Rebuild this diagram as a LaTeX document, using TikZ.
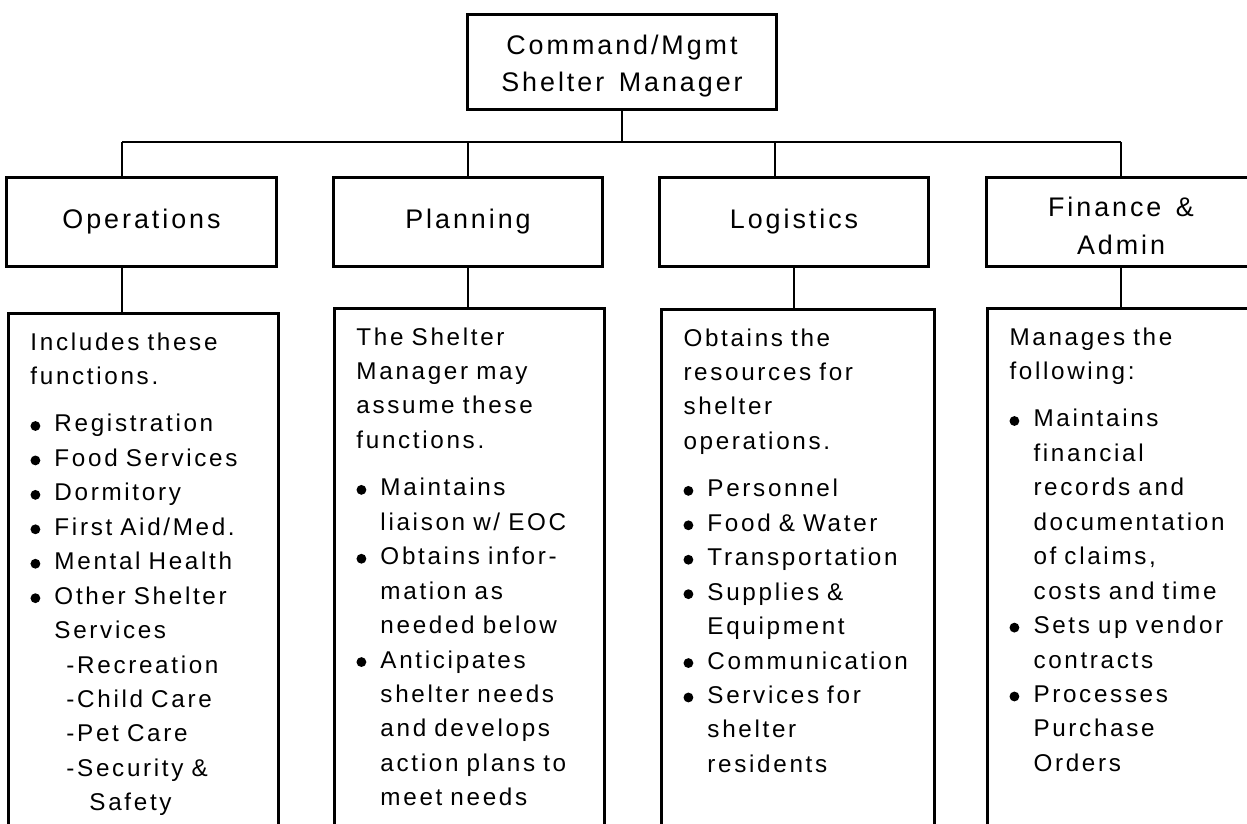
\documentclass[tikz,border=0pt]{standalone}
\usepackage{fontspec}
\setmainfont{Liberation Sans}[LetterSpace=11, WordSpace=1.4]
\usetikzlibrary{positioning}

\newcommand{\bul}{\makebox[0.48cm][l]{\tikz[baseline=0pt]\fill (2.8pt,3.4pt) circle[radius=2.8pt];}}
\newcommand{\ind}{\hspace*{0.48cm}}
\newcommand{\subit}{\hspace*{0.72cm}-}
\newcommand{\headstrut}{\rule{0pt}{0.55cm}}

\begin{document}
\begin{tikzpicture}[x=0.02cm, y=-0.02cm,
  head/.style={draw, line width=0.06cm, minimum width=5.4cm, minimum height=1.8cm,
    align=center, inner sep=0pt, font=\fontsize{15.3}{21.5}\selectfont},
  info/.style={draw, line width=0.06cm, anchor=north west, text width=4.52cm,
    inner xsep=0.44cm, inner ysep=0.25cm, text depth=10cm,
    font=\fontsize{13.8}{19.6}\selectfont},
  link/.style={line width=0.04cm}]
\useasboundingbox (0,0) rectangle (1247,824);

\node[head, minimum width=6.2cm, minimum height=1.92cm] (mgr) at (622,62) {\headstrut Command/Mgmt\\Shelter Manager};
\node[head] (ops)  at (141.5,222) {Operations};
\node[head] (plan) at (468,222)   {Planning};
\node[head] (logi) at (794,222)   {Logistics};
\node[head] (fin)  at (1121,222)  {\headstrut Finance \&\\Admin};

\coordinate (busL) at (122,142);
\coordinate (busR) at (1121,142);
\coordinate (logtap) at (775,142);

\node[info] (opsinfo) at (7,312) {\begin{tabular}[t]{@{}l@{}}
  Includes these\\
  functions.\\[0.26cm]
  \bul Registration\\
  \bul Food Services\\
  \bul Dormitory\\
  \bul First Aid/Med.\\
  \bul Mental Health\\
  \bul Other Shelter\\
  \ind Services\\
  \subit Recreation\\
  \subit Child Care\\
  \subit Pet Care\\
  \subit Security \&\\
  \hspace*{1.18cm}Safety
\end{tabular}};
\node[info] (planinfo) at (333,307) {\begin{tabular}[t]{@{}l@{}}
  The Shelter\\
  Manager may\\
  assume these\\
  functions.\\[0.26cm]
  \bul Maintains\\
  \ind liaison w/ EOC\\
  \bul Obtains infor-\\
  \ind mation as\\
  \ind needed below\\
  \bul Anticipates\\
  \ind shelter needs\\
  \ind and develops\\
  \ind action plans to\\
  \ind meet needs
\end{tabular}};
\node[info, text width=4.58cm] (loginfo) at (660,308) {\begin{tabular}[t]{@{}l@{}}
  Obtains the\\
  resources for\\
  shelter\\
  operations.\\[0.26cm]
  \bul Personnel\\
  \bul Food \& Water\\
  \bul Transportation\\
  \bul Supplies \&\\
  \ind Equipment\\
  \bul Communication\\
  \bul Services for\\
  \ind shelter\\
  \ind residents
\end{tabular}};
\node[info] (fininfo) at (986,307) {\begin{tabular}[t]{@{}l@{}}
  Manages the\\
  following:\\[0.26cm]
  \bul Maintains\\
  \ind financial\\
  \ind records and\\
  \ind documentation\\
  \ind of claims,\\
  \ind costs and time\\
  \bul Sets up vendor\\
  \ind contracts\\
  \bul Processes\\
  \ind Purchase\\
  \ind Orders
\end{tabular}};

\draw[link] (mgr.south) -- (mgr.south |- busL);
\draw[link] (busL) -- (busR);
\draw[link] (busL) -- (busL |- ops.north);
\draw[link] (plan.north |- busL) -- (plan.north);
\draw[link] (logtap) -- (logtap |- logi.north);
\draw[link] (busR) -- (fin.north);

\draw[link] (busL |- ops.south) -- (busL |- opsinfo.north);
\draw[link] (plan.south) -- (plan.south |- planinfo.north);
\draw[link] (logi.south) -- (logi.south |- loginfo.north);
\draw[link] (fin.south) -- (fin.south |- fininfo.north);
\end{tikzpicture}
\end{document}
